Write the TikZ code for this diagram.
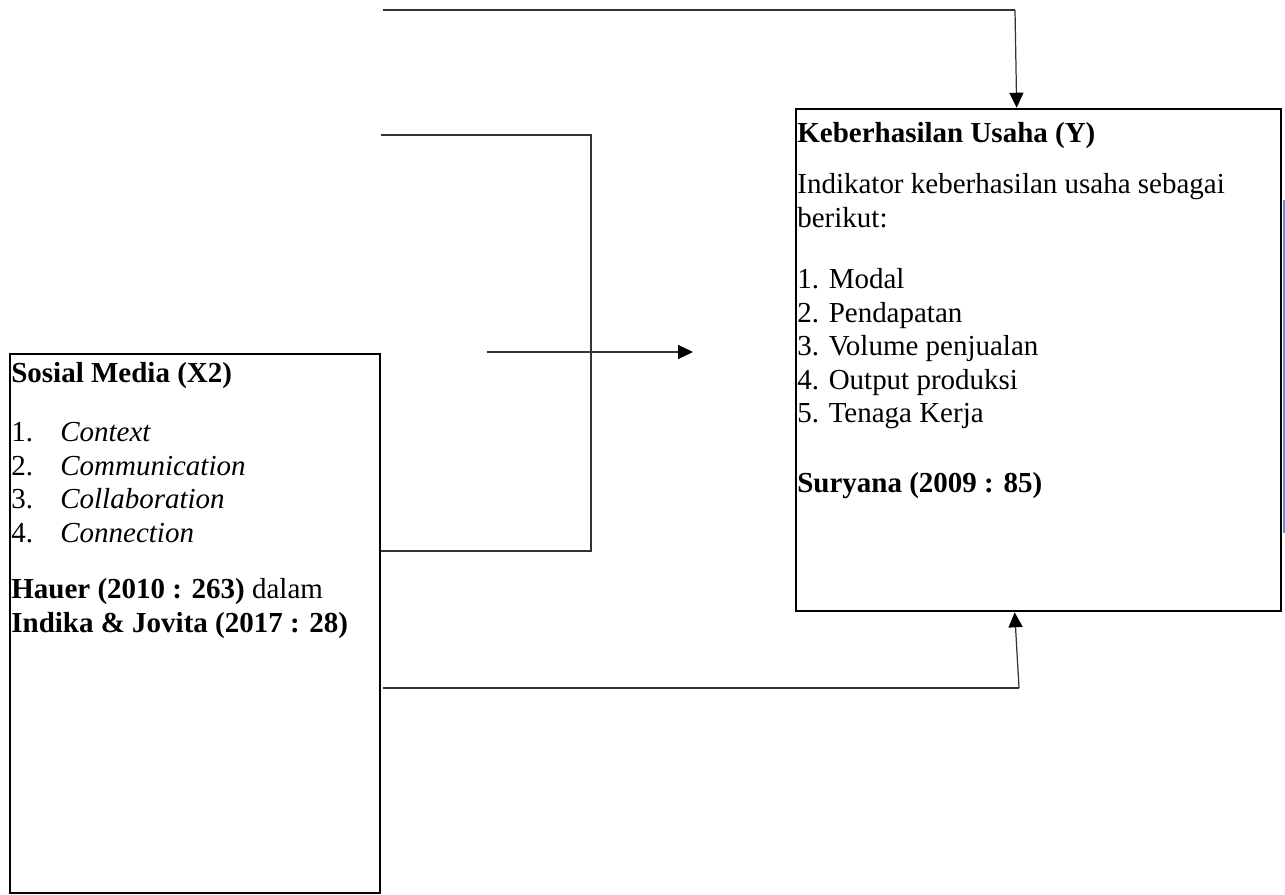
\documentclass[tikz,border=0pt]{standalone}
\usepackage{fontspec}
\setmainfont{Liberation Serif}
\usetikzlibrary{arrows.meta}
\definecolor{barblue}{HTML}{5B9BD5}
\tikzset{
    box/.style = {draw, line width=1.5pt, inner sep=0pt},
    boxtext/.style = {anchor=north west, inner sep=0pt, align=left,
        font=\fontsize{0.58cm}{0.67cm}\selectfont},
    conn/.style = {draw=black!80, line width=0.7pt},
    arr/.style = {conn, -{Triangle[length=0.3cm, width=0.28cm, color=black]}}
}

\begin{document}
\begin{tikzpicture}[x=0.02cm, y=-0.02cm]
    \useasboundingbox (0,0) rectangle (1285,895);

    \node[box, minimum width=7.4cm, minimum height=10.78cm] (X2) at (195,623.5) {};
    \node[boxtext] (X2txt) at (11,362) {\textbf{Sosial Media (X2)}\\[0.52cm]
        \makebox[0.98cm][l]{1.}\textit{Context}\\
        \makebox[0.98cm][l]{2.}\textit{Communication}\\
        \makebox[0.98cm][l]{3.}\textit{Collaboration}\\
        \makebox[0.98cm][l]{4.}\textit{Connection}\\[0.46cm]
        \textbf{Hauer (2010 : 263)} dalam\\
        \textbf{Indika \& Jovita (2017 : 28)}};

    \node[box, minimum width=9.7cm, minimum height=10.04cm] (Y) at (1038.5,360) {};
    \fill[barblue] (1282.5,200) rectangle (1286,533);
    \node[boxtext] (Ytxt) at (797,122) {\textbf{Keberhasilan Usaha (Y)}\\[0.36cm]
        Indikator keberhasilan usaha sebagai\\
        berikut:\\[0.56cm]
        1. Modal\\
        2. Pendapatan\\
        3. Volume penjualan\\
        4. Output produksi\\
        5. Tenaga Kerja\\[0.72cm]
        \textbf{Suryana (2009 : 85)}};

    \coordinate (T1) at (383,10);
    \coordinate (T2) at (1015,10);
    \draw[conn] (T1) -- (T2);
    \draw[arr] (T2) -- ([xshift=4.44cm]Y.north west);

    \coordinate (M1) at (381,135);
    \coordinate (M2) at (591,135);
    \coordinate (M3) at (591,551);
    \draw[conn] (M1) -- (M2) -- (M3) -- (X2.east |- M3);

    \coordinate (A1) at (487,352);
    \coordinate (A2) at (693,352);
    \draw[arr] (A1) -- (A2);

    \coordinate (B1) at (383,688);
    \coordinate (B2) at (1019,688);
    \draw[conn] (B1) -- (B2);
    \draw[arr] (B2) -- ([xshift=4.4cm]Y.south west);

\end{tikzpicture}
\end{document}
